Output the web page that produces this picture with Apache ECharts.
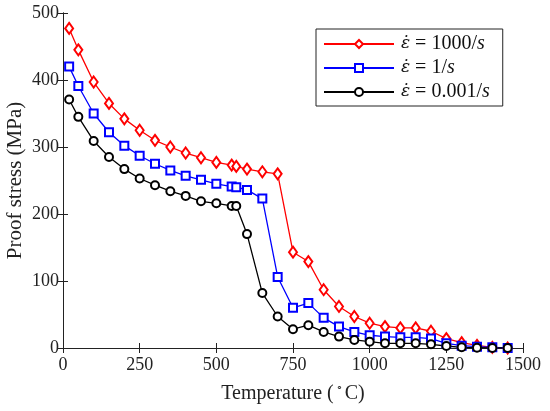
<!DOCTYPE html>
<html>
<head>
<meta charset="utf-8">
<script src="https://cdn.jsdelivr.net/npm/echarts@6/dist/echarts.min.js"></script>
<style>
  html, body { margin: 0; padding: 0; background: #fff; }
  #main { width: 550px; height: 411px; }
</style>
</head>
<body>
<div id="main"></div>
<script>
// temperatures (°C)
const temps = [20, 50, 100, 150, 200, 250, 300, 350, 400, 450, 500, 550, 565, 600, 650, 700,
    750, 800, 850, 900, 950, 1000, 1050, 1100, 1150, 1200, 1250, 1300, 1350, 1400, 1450];

// proof stress (MPa) per strain rate
const rate1000 = [477, 445, 397, 365, 342, 325, 310, 300, 291, 284, 277, 273, 271, 267, 263, 260,
    143, 129, 87, 62, 47, 37, 32, 30, 30, 25, 14, 8, 4, 1, 0];
const rate1 = [420, 391, 350, 322, 302, 287, 275, 265, 257, 251, 245, 241, 240, 236, 223, 106,
    60, 67, 45, 32, 24, 19, 17, 16, 16, 14, 7, 3.5, 2, 1, 0];
const rate0001 = [371, 345, 309, 285, 267, 253, 243, 234, 227, 219, 216, 212, 212, 170, 82, 47,
    28, 34, 24, 17, 12, 9.5, 7, 7, 7, 5.5, 3, 1, 0.5, 0, 0];

const xTicks = [0, 1500, 250];
const yTicks = [0, 500, 100];

const serif = 'Liberation Serif';

function pairs(ys) {
    return temps.map((t, i) => [t, ys[i]]);
}

const chart = echarts.init(document.getElementById('main'));

const tickStyle = { inside: true, length: 5, lineStyle: { color: '#222' } };
const lineStyleAxis = { lineStyle: { color: '#222', width: 1 } };
const plain = v => String(v);

function mkSeries(name, ys, color, symbol, size) {
    return {
        name: name,
        type: 'line',
        data: pairs(ys),
        symbol: symbol,
        symbolSize: size,
        showAllSymbol: true,
        lineStyle: { color: color, width: 1.3 },
        itemStyle: { color: color, borderWidth: 1.3 },
        emphasis: { disabled: true },
        z: 3
    };
}

const option = {
    backgroundColor: '#fff',
    animation: false,
    grid: { left: 63, right: 27, top: 13, bottom: 63, outerBoundsMode: 'none', containLabel: false },
    legend: {
        left: 316,
        top: 29,
        orient: 'vertical',
        backgroundColor: '#fff',
        borderColor: '#222',
        borderWidth: 1,
        padding: [5, 13, 4, 7],
        itemWidth: 70,
        itemHeight: 10,
        itemGap: 4,
        data: ['r1000', 'r1', 'r0001'],
        formatter: function (n) {
            const v = { r1000: '1000', r1: '1', r0001: '0.001' }[n];
            return '{e|ε̇} = ' + v + '/{i|s}';
        },
        textStyle: {
            fontFamily: serif,
            fontSize: 20,
            color: '#111',
            padding: [0, 0, 0, 2],
            rich: {
                e: { fontFamily: 'DejaVu Serif', fontStyle: 'italic', fontSize: 17, color: '#111' },
                i: { fontFamily: serif, fontStyle: 'italic', fontSize: 20, color: '#111' }
            }
        }
    },
    xAxis: [{
        type: 'value',
        min: xTicks[0], max: xTicks[1], interval: xTicks[2],
        name: 'Temperature ({sup|∘}C)',
        nameLocation: 'middle',
        nameGap: 35,
        nameMoveOverlap: false,
        nameTextStyle: {
            fontFamily: serif, fontSize: 20, color: '#222',
            rich: { sup: { fontFamily: serif, fontSize: 11, color: '#222', verticalAlign: 'top', padding: [0, 2, 10, 2] } }
        },
        axisLine: lineStyleAxis,
        axisTick: tickStyle,
        axisLabel: { fontFamily: serif, fontSize: 18, color: '#222', margin: 8, formatter: plain },
        splitLine: { show: false }
    }, {
        type: 'value', position: 'top',
        min: xTicks[0], max: xTicks[1], interval: xTicks[2],
        axisLine: lineStyleAxis,
        axisTick: tickStyle,
        axisLabel: { show: false },
        splitLine: { show: false }
    }],
    yAxis: [{
        type: 'value',
        min: yTicks[0], max: yTicks[1], interval: yTicks[2],
        name: 'Proof stress (MPa)',
        nameLocation: 'middle',
        nameGap: 37,
        nameMoveOverlap: false,
        nameTextStyle: { fontFamily: serif, fontSize: 21, color: '#222' },
        axisLine: lineStyleAxis,
        axisTick: tickStyle,
        axisLabel: { fontFamily: serif, fontSize: 18, color: '#222', margin: 4, formatter: plain },
        splitLine: { show: false }
    }, {
        type: 'value', position: 'right',
        min: yTicks[0], max: yTicks[1], interval: yTicks[2],
        axisLine: lineStyleAxis,
        axisTick: tickStyle,
        axisLabel: { show: false },
        splitLine: { show: false }
    }],
    series: [
        mkSeries('r1000', rate1000, '#ff0000', 'emptyDiamond', [8, 11]),
        mkSeries('r1', rate1, '#0000ff', 'emptyRect', 8),
        mkSeries('r0001', rate0001, '#000000', 'emptyCircle', 8)
    ]
};

chart.setOption(option);
</script>
</body>
</html>
